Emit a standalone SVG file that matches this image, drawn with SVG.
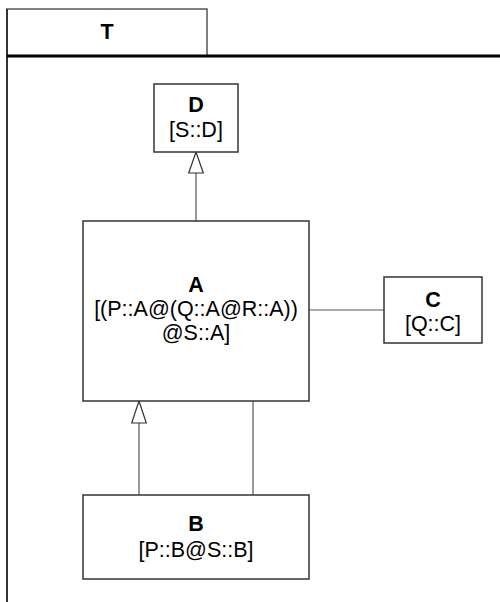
<svg xmlns="http://www.w3.org/2000/svg" width="500" height="602" viewBox="0 0 500 602">
<defs>
<style>
.box{fill:#fff;stroke:#333;stroke-width:1.5}
.t{font-family:"Liberation Sans",Arial,sans-serif;font-size:21.5px;fill:#000;text-anchor:middle}
.b{font-weight:bold}
.c{stroke:#555;stroke-width:1.2;fill:none}
.tri{fill:#fff;stroke:#333;stroke-width:1.2}
</style>
</defs>
<rect width="500" height="602" fill="#fff"/>
<g id="frame">
<rect x="7" y="9" width="200" height="47" fill="#fff" stroke="#555" stroke-width="1.5"/>
<line x1="7" y1="9" x2="7" y2="602" stroke="#333" stroke-width="2"/>
<line x1="7" y1="56" x2="500" y2="56" stroke="#000" stroke-width="3"/>
<text class="t b" x="107" y="39">T</text>
</g>
<g id="connectors">
<line class="c" x1="196" y1="221" x2="196" y2="173"/>
<polygon class="tri" points="196,152 188.7,173 203.3,173"/>
<line class="c" x1="139" y1="495" x2="139" y2="423"/>
<polygon class="tri" points="139,401 131.7,423 146.3,423"/>
<line class="c" x1="253" y1="401" x2="253" y2="495"/>
<line class="c" x1="309" y1="310" x2="384" y2="310"/>
</g>
<g id="D">
<rect class="box" x="154" y="84" width="84" height="68"/>
<text class="t b" x="196" y="112">D</text>
<text class="t" x="196" y="137">[S::D]</text>
</g>
<g id="A">
<rect class="box" x="83" y="221" width="226" height="180"/>
<text class="t b" x="196" y="292">A</text>
<text class="t" x="196" y="316">[(P::A@(Q::A@R::A))</text>
<text class="t" x="196" y="340">@S::A]</text>
</g>
<g id="C">
<rect class="box" x="384" y="277" width="98" height="66"/>
<text class="t b" x="433" y="307">C</text>
<text class="t" x="433" y="331">[Q::C]</text>
</g>
<g id="B">
<rect class="box" x="83" y="495" width="226" height="84"/>
<text class="t b" x="196" y="531">B</text>
<text class="t" x="196" y="557">[P::B@S::B]</text>
</g>
</svg>
